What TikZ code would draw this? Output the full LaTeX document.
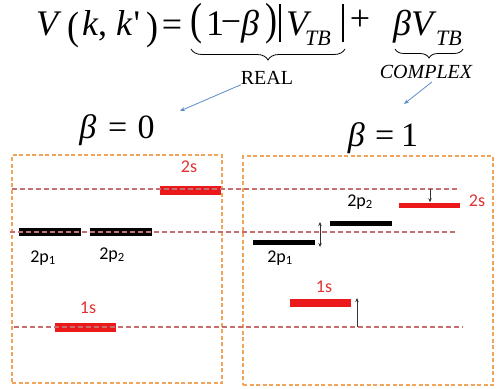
\documentclass[tikz,border=0pt]{standalone}
\usepackage{fontspec}
\setmainfont{Liberation Serif}
\newfontfamily\plainrm[Ligatures=NoCommon]{Liberation Serif}
\newfontfamily\calib{Carlito}
\usetikzlibrary{decorations.pathreplacing,arrows.meta}
\definecolor{boxorange}{RGB}{240,165,90}
\definecolor{lvlline}{RGB}{200,110,110}
\definecolor{barred}{RGB}{235,25,25}
\definecolor{lblred}{RGB}{225,50,50}
\definecolor{arrblue}{RGB}{90,140,200}
\tikzset{
  eq/.style={inner sep=0pt,anchor=base west,font=\fontsize{36}{40}\selectfont},
  eqi/.style={eq,font=\fontsize{36}{40}\selectfont\itshape},
  sub/.style={inner sep=0pt,anchor=base west,font=\fontsize{22}{26}\selectfont\itshape},
  par/.style={inner sep=0pt,anchor=center,font=\fontsize{36}{40}\selectfont},
  smalllbl/.style={inner sep=0pt,font=\fontsize{20}{24}\selectfont},
  panelbox/.style={draw=boxorange,line width=1.2pt,dash pattern=on 4pt off 2.5pt},
  level/.style={draw=lvlline,line width=1.2pt,dash pattern=on 5pt off 3pt},
  redbar/.style={fill=barred,draw=none,inner sep=0pt,minimum width=61pt},
  blackbar/.style={fill=black,draw=none,inner sep=0pt,minimum width=62pt},
  lbl/.style={inner sep=0pt,font=\calib\fontsize{18}{21}\selectfont},
  shiftarr/.style={draw=black!80,line width=0.7pt,-{Stealth[length=4pt,width=3.5pt]}},
  brc/.style={decorate,line width=0.8pt},
  vbar/.style={line width=1.3pt},
  bluearr/.style={draw=arrblue,line width=0.8pt,-{Stealth[length=5pt,width=4pt]}}
}
\begin{document}
\begin{tikzpicture}[x=1pt,y=-1pt]
\useasboundingbox (0,0) rectangle (497,388);
% equation, left side
\node[eqi] (e1) at (36,35) {V};
\node[par] (p1) at (73,30) {\scalebox{1}[1.1]{(}};
\node[eqi] (e2) at (82,35) {k\upshape,};
\node[eqi] (e3) at (116,35) {k\plainrm\upshape\hspace{1.5pt}'};
\node[par] (p2) at (152,30) {\scalebox{1}[1.1]{)}};
\node[par] (e4) at (172,28) {=};
% real part
\node[par] (p3) at (196,24) {\scalebox{1}[1.25]{(}};
\node[eq] (e5) at (206,35) {1};
\node[par] (e6) at (231,27) {−};
\node[eqi] (e7) at (241,35) {β};
\node[par] (p4) at (271,24) {\scalebox{1}[1.25]{)}};
\coordinate (v1a) at (280,4); \coordinate (v1b) at (280,42);
\draw[vbar] (v1a) -- (v1b);
\node[eqi] (e8) at (286,35) {V};
\node[sub] (e9) at (305,45) {TB};
\coordinate (v2a) at (343,4); \coordinate (v2b) at (343,42);
\draw[vbar] (v2a) -- (v2b);
\node[par] (e10) at (360,20) {+};
% complex part
\node[eqi] (e11) at (393,35) {β};
\node[eqi] (e12) at (411,35) {V};
\node[sub] (e13) at (436,45) {TB};
% braces
\coordinate (br1a) at (345,49); \coordinate (br1b) at (191,49);
\coordinate (br2a) at (463,49); \coordinate (br2b) at (395,49);
\draw[brc,decoration={brace,amplitude=11pt}] (br1a) -- (br1b);
\draw[brc,decoration={brace,amplitude=9pt}] (br2a) -- (br2b);
\node[smalllbl] (reallbl) at (267,78) {REAL};
\node[smalllbl] (cplxlbl) at (426,72) {\itshape COMPLEX};
% beta labels
\node[eq,anchor=base] (b0) at (117,138) {\fontsize{34}{38}\selectfont\itshape β\upshape\hspace{0.35em}=\hspace{0.3em}0};
\node[eq,anchor=base] (b1) at (383,146) {\fontsize{34}{38}\selectfont\itshape β\upshape\hspace{0.3em}=\hspace{0.2em}1};
\coordinate (a0) at (180,111);
\coordinate (a1) at (404,104);
\draw[bluearr] (reallbl.south west) -- (a0);
\draw[bluearr] ([xshift=6pt,yshift=-3pt]cplxlbl.south) -- (a1);
% panels
\node[panelbox,minimum width=210pt,minimum height=228pt,inner sep=0pt] (pl) at (117,269) {};
\node[panelbox,minimum width=250pt,minimum height=229pt,inner sep=0pt] (pr) at (368,270.5) {};
% left bars
\node[redbar,minimum height=9pt] (ls2) at (190,190) {};
\node[blackbar,minimum height=8pt] (lp1) at (50,232) {};
\node[blackbar,minimum height=8pt] (lp2) at (121,232) {};
\node[redbar,minimum height=9pt] (ls1) at (85.5,327) {};
% right bars
\node[redbar,minimum height=5pt] (rs2) at (429.5,205) {};
\node[blackbar,minimum height=5pt] (rp2) at (361,223) {};
\node[blackbar,minimum height=5pt] (rp1) at (283.5,242) {};
\node[redbar,minimum height=8pt] (rs1) at (320.5,303) {};
% level lines
\coordinate (t1) at (12,189); \coordinate (t2) at (460,189);
\coordinate (m1) at (10,232); \coordinate (m2) at (458,232);
\coordinate (u1) at (14,327); \coordinate (u2) at (463,327);
\draw[level] (t1) -- (t2);
\draw[level] (m1) -- (m2);
\draw[level] (u1) -- (u2);
% labels
\node[lbl,text=lblred] (tl2s) at (189,167) {2s};
\node[lbl] (tlp1) at (43,258) {2p\textsubscript{1}};
\node[lbl] (tlp2) at (112,255) {2p\textsubscript{2}};
\node[lbl,text=lblred] (tl1s) at (88,308) {1s};
\node[lbl,text=lblred] (tr2s) at (477,201) {2s};
\node[lbl] (trp2) at (360,202) {2p\textsubscript{2}};
\node[lbl] (trp1) at (280,258) {2p\textsubscript{1}};
\node[lbl,text=lblred] (tr1s) at (324,287) {1s};
% shift arrows
\coordinate (s2a) at (430,189);
\draw[shiftarr] (s2a) -- (s2a |- rs2.north);
\coordinate (pa) at (320,222);
\coordinate (pb) at (320,247);
\draw[shiftarr,{Stealth[length=4pt,width=3.5pt]}-{Stealth[length=4pt,width=3.5pt]}] (pa) -- (pb);
\coordinate (s1a) at (357,327);
\coordinate (s1b) at (357,298);
\draw[shiftarr] (s1a) -- (s1b);
\end{tikzpicture}
\end{document}
